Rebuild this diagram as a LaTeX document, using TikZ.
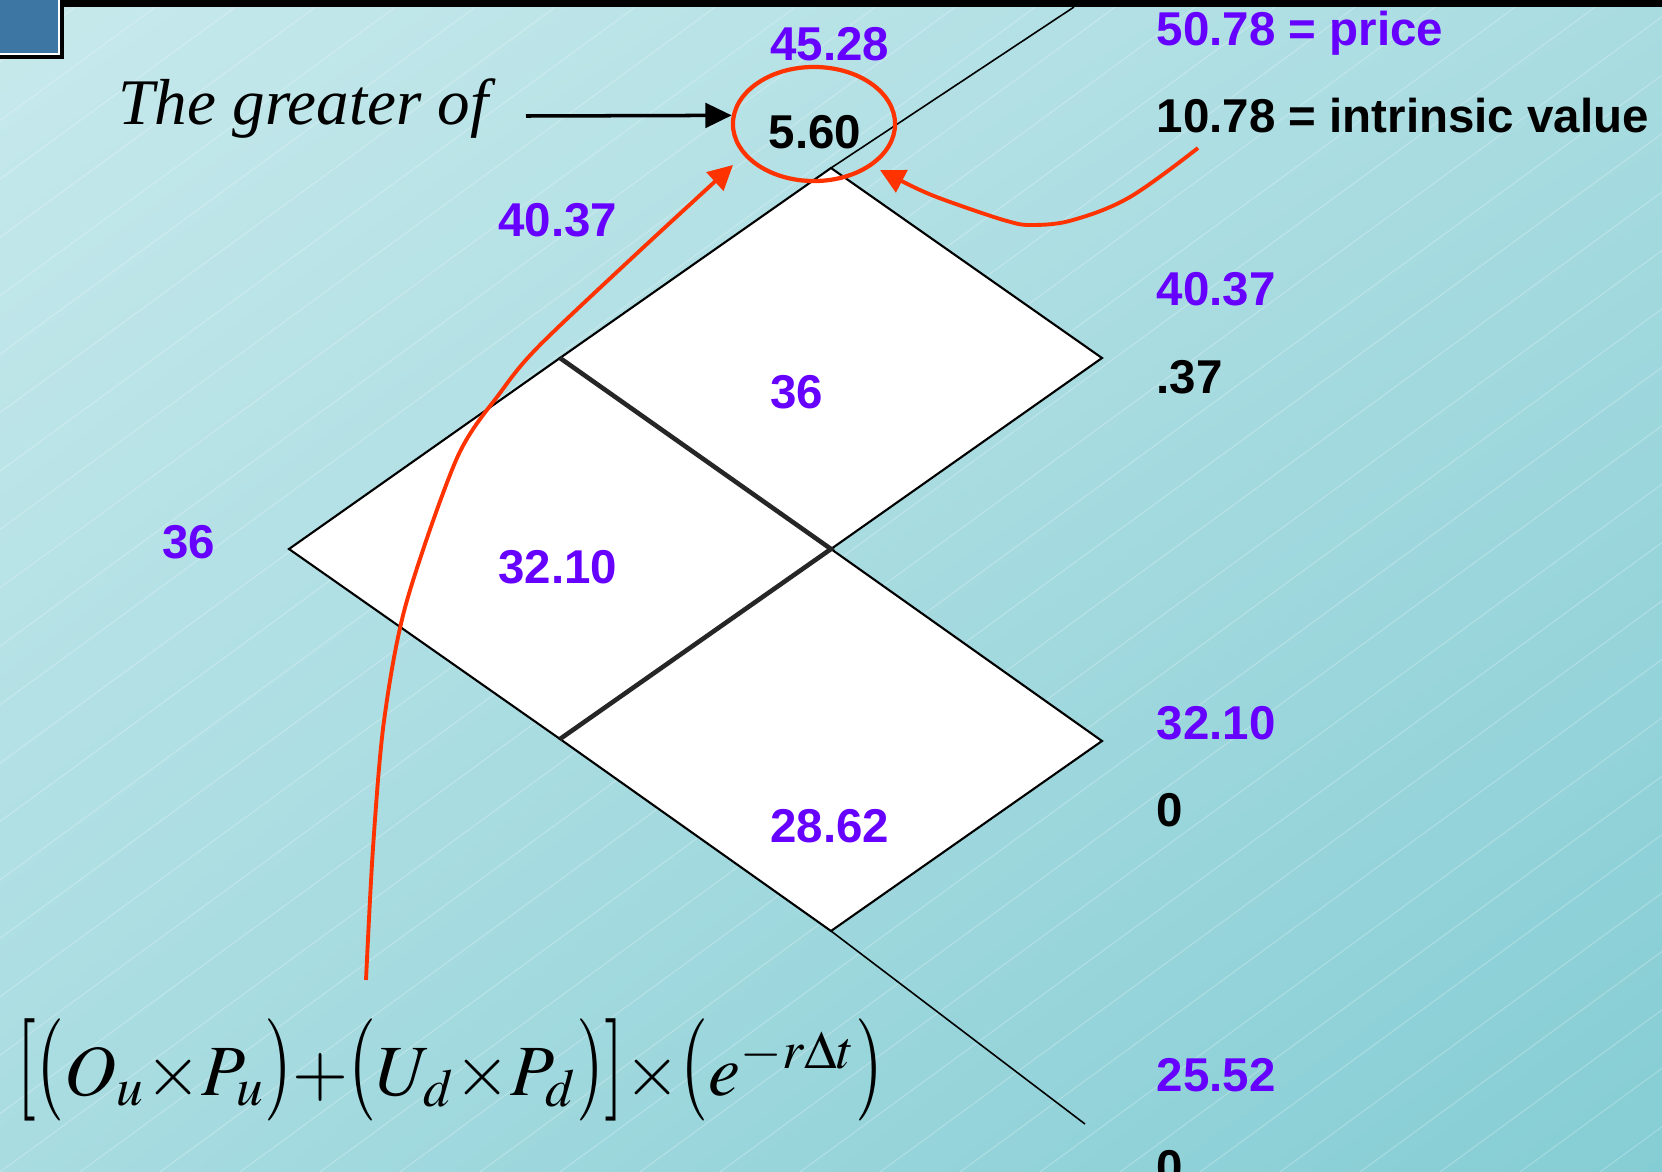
\documentclass[tikz,border=0pt]{standalone}
\usepackage{mathptmx}
\usepackage{fontspec}
\setmainfont{Liberation Sans}
\newfontfamily\timesit{Liberation Serif}
\usetikzlibrary{arrows.meta, shapes.geometric, shadings}
\definecolor{optpurple}{HTML}{6600FF}
\definecolor{optred}{HTML}{FF3300}
\definecolor{sqblue}{HTML}{3D76A3}
\definecolor{bgA}{HTML}{C7E9EC}
\definecolor{bgB}{HTML}{A9DCE1}
\definecolor{bgC}{HTML}{A8DCE1}
\definecolor{bgD}{HTML}{85CDD4}
\newcommand{\tall}[1]{\scalebox{1}[1.42]{$#1$}}

\begin{document}
\begin{tikzpicture}[x=0.01cm, y=-0.01cm,
	stock/.style={font=\fontsize{13.5}{16}\selectfont\bfseries, text=optpurple, inner sep=0pt, anchor=base},
	payoff/.style={stock, text=black},
	ring/.style={ellipse, draw=optred, line width=1.2pt, minimum width=1.62cm, minimum height=1.14cm, inner sep=0pt},
	link/.style={optred, line width=1.1pt, -{Triangle[length=7pt, width=7pt]}},
	latt/.style={draw=black, line width=0.6pt}]
	\useasboundingbox (0,0) rectangle (1662,1172);
	\shade[upper left=bgA, upper right=bgB, lower left=bgC, lower right=bgD] (0,0) rectangle (1662,1172);
	\foreach \s in {-1600,-1520,...,1660}
	\draw[white, opacity=0.25, line width=0.3pt] (\s,1172) -- ++(1605,-1172);
	\fill[black] (0,0) rectangle (1662,7);
	\fill[sqblue] (0,0) rectangle (60,55);
	\draw[white, line width=0.4pt] (59,0) -- (59,54) -- (0,54);
	\draw[black, line width=1pt] (62,0) -- (62,57) -- (0,57);
	
	\coordinate (a) at (831,168);
	\coordinate (b) at (560,358);
	\coordinate (c) at (1102,358);
	\coordinate (d) at (831,549);
	\coordinate (e) at (289,549);
	\coordinate (f) at (560,739);
	\coordinate (g) at (1102,741);
	\coordinate (h) at (831,931);
	\coordinate (topend) at (1074,7);
	\coordinate (botend) at (1085,1124);
	
	\filldraw[fill=white, latt] (a) -- (c) -- (d) -- (b) -- cycle;
	\filldraw[fill=white, latt] (b) -- (d) -- (f) -- (e) -- cycle;
	\filldraw[fill=white, latt] (d) -- (g) -- (h) -- (f) -- cycle;
	\draw[line width=1.3pt, black!85] (b) -- (d) -- (f);
	\draw[line width=0.45pt] (a) -- (topend);
	\draw[line width=0.45pt] (h) -- (botend);
	
	\node[stock] (s0) at (830,60) {45.28};
	\node[payoff] (o0) at (815,148) {5.60};
	\node[ring] (ring) at (814,124) {};
	\node[stock] (s1u) at (558,236) {40.37};
	\node[stock] (s1) at (189,558) {36};
	\node[stock] (s2m) at (797,408) {36};
	\node[stock] (s2d) at (558,583) {32.10};
	\node[stock] (s3d) at (830,842) {28.62};
	
	\node[stock, anchor=base west] (s4) at (1156,45) {50.78 = price};
	\node[payoff, anchor=base west] (o4) at (1156,132) {10.78 = intrinsic value};
	\node[stock, anchor=base west] (s5) at (1156,305) {40.37};
	\node[payoff, anchor=base west] (o5) at (1156,393) {.37};
	\node[stock, anchor=base west] (s6) at (1156,739) {32.10};
	\node[payoff, anchor=base west] (o6) at (1156,826) {0};
	\node[stock, anchor=base west] (s7) at (1156,1091) {25.52};
	\node[payoff, anchor=base west] (o7) at (1156,1183) {0};
	
	\node[anchor=base west, inner sep=0pt, font=\fontsize{18.5}{22}\selectfont\timesit\itshape] (greater) at (118,124) {The greater of};
	\node[anchor=base west, inner sep=0pt, font=\fontsize{20.5}{25}\selectfont] (pv) at (16,1095) {\medmuskip=0mu$\tall{[}\tall{(}O_u\times P_u\tall{)}+\tall{(}U_d\times P_d\tall{)}\tall{]}\times\tall{(}e^{-r\Delta t}\tall{)}$};
	
	\coordinate (gs) at (526,116);
	\coordinate (fs) at (366,980);
	\coordinate (is) at (1198,148);
	\coordinate (tipl) at (733,165);
	\coordinate (tipr) at (880,170);
	\draw[line width=1pt, -{Triangle[length=7.5pt, width=7pt]}] (gs) -- (ring.174);
	\draw[link] plot[smooth, tension=0.5] coordinates {(fs) (373,848) (384,721) (406,604) (457,458) (500,393) (538,347) (633,257) (tipl)};
	\draw[link] plot[smooth, tension=0.6] coordinates {(is) (1130,197) (1073,220) (1033,225) (1007,221) (953,203) (920,190) (tipr)};
\end{tikzpicture}
\end{document}
